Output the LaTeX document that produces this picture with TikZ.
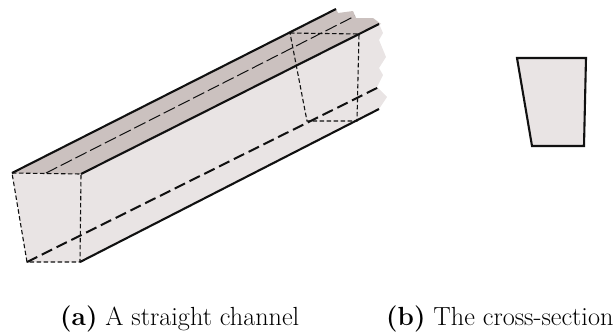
\documentclass[tikz,border=0pt]{standalone}
\usepackage{tikz}
\usetikzlibrary{calc}
\definecolor{Side}{HTML}{E9E4E4}
\definecolor{Roof}{HTML}{CBC1BF}
\definecolor{Ink}{HTML}{111111}
\begin{document}
\begin{tikzpicture}[
  x=1pt,y=-1pt,
  solidedge/.style={draw=Ink,line width=2.1pt},
  axisline/.style={draw=Ink,line width=2pt,dash pattern=on 11.5pt off 5pt},
  thinaxis/.style={draw=Ink,line width=1pt,dash pattern=on 12.5pt off 4pt},
  sectionline/.style={draw=Ink,line width=1.1pt,dash pattern=on 4.5pt off 2.5pt},
  caption/.style={font=\fontsize{26.2}{30}\selectfont,anchor=base west,inner sep=0pt}
]
\useasboundingbox (0,0) rectangle (616,335);
% front section
\coordinate (ftl) at (12,173);
\coordinate (ftr) at (81,174);
\coordinate (fbr) at (80,262);
\coordinate (fbl) at (27,262);
% far section
\coordinate (btl) at (290,33);
\coordinate (btr) at (359,34);
\coordinate (bbr) at (357,121);
\coordinate (bbl) at (307,121);
% free ends
\coordinate (topend) at (336,9);
\coordinate (ridgeend) at (379,24);
\coordinate (lowend) at (379,109);
\coordinate (axisend) at (379,87);
\coordinate (thinstart) at (46,173);
\coordinate (thinend) at (355,16);
% faces
\fill[Side] (ftr) -- (ridgeend) -- (383,33) -- (379,40) -- (386,57) -- (379,68) -- (383,75) -- (377,87)
  -- (387,97) -- (379,109) -- (fbr) -- (fbl) -- (ftl) -- cycle;
\fill[Roof] (ftl) -- (topend) -- (338,13) -- (353,11) -- (356,18) -- (373,18) -- (381,24) -- (ridgeend) -- (ftr) -- cycle;
% edges
\draw[solidedge] (ftl) -- (topend);
\draw[solidedge] (ftr) -- (ridgeend);
\draw[solidedge] (fbr) -- (lowend);
\draw[axisline] (fbl) -- (axisend);
\draw[thinaxis] (thinstart) -- (thinend);
\draw[sectionline] (ftl) -- (ftr) -- (fbr) -- (fbl) -- cycle;
\draw[sectionline] (btl) -- (btr) -- (bbr) -- (bbl) -- cycle;
% cross-section
\draw[draw=Ink,line width=2.1pt,fill=Side,line join=miter] (517,58) -- (586,58) -- (584,146) -- (532,146) -- cycle;
% captions
\node[caption] (capa) at (60,325) {\textbf{(a)} A straight channel};
\node[caption] (capb) at (386,325) {\textbf{(b)} The cross-section};
\end{tikzpicture}
\end{document}
